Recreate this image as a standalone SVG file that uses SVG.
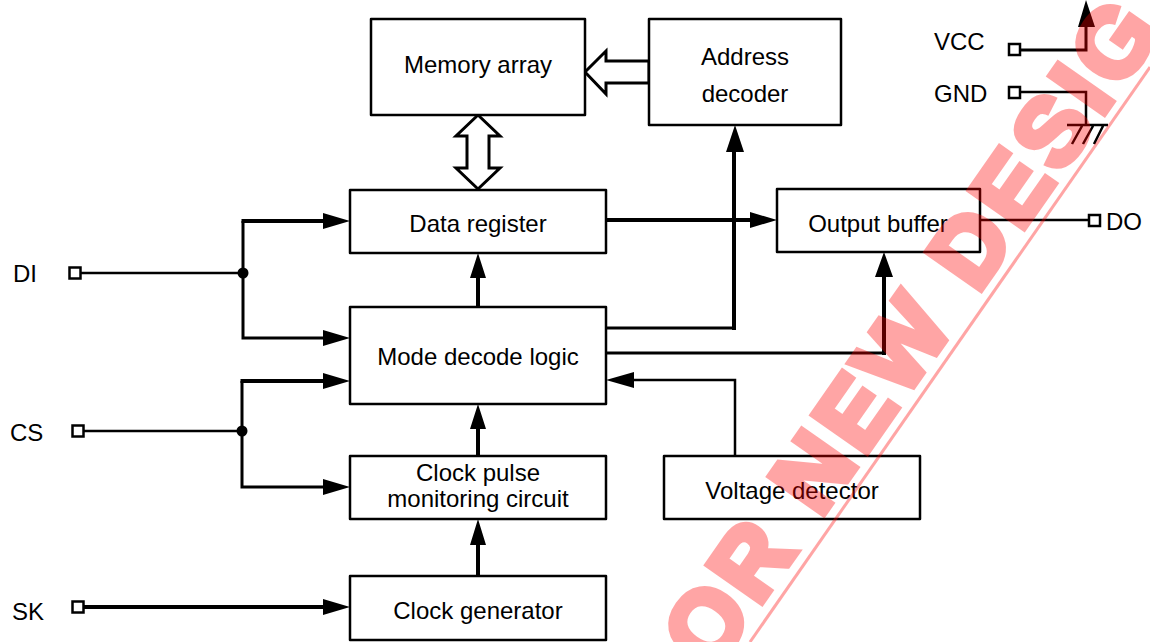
<svg xmlns="http://www.w3.org/2000/svg" width="1150" height="642" viewBox="0 0 1150 642">
<style>
.b{fill:#fff;stroke:#000;stroke-width:2.5;stroke-linejoin:round}
.t{font-family:"Liberation Sans",Arial,sans-serif;font-size:24px;fill:#000;text-anchor:middle}
.l{font-family:"Liberation Sans",Arial,sans-serif;font-size:24px;fill:#000}
.c{fill:none;stroke:#000;stroke-width:2.5}
.m{fill:none;stroke:#000;stroke-width:3}
.k{fill:none;stroke:#000;stroke-width:4}
.h{fill:#000;stroke:none}
.p{fill:#fff;stroke:#000;stroke-width:2.5}
.o{fill:#fff;stroke:#000;stroke-width:3;stroke-linejoin:miter}
</style>
<rect width="1150" height="642" fill="#fff"/>
<g id="connectors">
<path class="c" d="M80 273H243"/>
<path class="m" d="M243 273V221M243 273V338H326"/>
<path class="k" d="M241.500 221H326"/>
<path class="c" d="M84 431H242"/>
<path class="m" d="M242 431V487H326M242 431V381"/>
<path class="k" d="M240.500 381H326"/>
<path class="k" d="M83 607H326"/>
<path class="k" d="M478 307V277M478 456V428M478 576V544"/>
<path class="k" d="M606 220H752"/>
<path class="m" d="M606 328H735"/>
<path class="k" d="M734 330V150"/>
<path class="m" d="M606 353H884"/>
<path class="k" d="M884 355V275"/>
<path class="c" d="M735 456V380H632"/>
<path class="c" d="M980 220H1089"/>
<path class="m" d="M1020 50H1086V25"/>
<path class="c" d="M1020 92H1086V125M1067 125H1108M1082 126L1072 144M1093 126L1083 144M1103 126L1094 144"/>
<path class="h" d="M350 221L323 213V229ZM350 338L323 330V346ZM350 381L323 373V389ZM350 487L323 479V495ZM350 607L323 599V615Z"/>
<path class="h" d="M478 253L470 278H486ZM478 404L470 429H486ZM478 519L470 545H486Z"/>
<path class="h" d="M777 220L750 212V228ZM735 125L726 152H744ZM884 252L875 277H893ZM606 380L634 372V388ZM1086 0L1078 27H1095Z"/>
<circle class="h" cx="243" cy="273" r="5.500"/>
<circle class="h" cx="242" cy="431" r="5.500"/>
<path class="o" d="M649 61H606V51L585 72L606 94V83H649Z"/>
<path class="o" d="M467 136V168H456L478 189L500 168H489V136H500L478 115L456 136Z"/>
</g>
<g id="memory-array"><rect class="b" x="371" y="19" width="214" height="96"/><text class="t" x="478" y="73">Memory array</text></g>
<g id="address-decoder"><rect class="b" x="649" y="19" width="192" height="106"/><text class="t" x="745" y="65">Address</text><text class="t" x="745" y="102">decoder</text></g>
<g id="data-register"><rect class="b" x="350" y="190" width="256" height="63"/><text class="t" x="478" y="232">Data register</text></g>
<g id="mode-decode-logic"><rect class="b" x="350" y="307" width="256" height="97"/><text class="t" x="478" y="365">Mode decode logic</text></g>
<g id="clock-pulse-monitoring-circuit"><rect class="b" x="350" y="456" width="256" height="63"/><text class="t" x="478" y="481">Clock pulse</text><text class="t" x="478" y="507">monitoring circuit</text></g>
<g id="clock-generator"><rect class="b" x="350" y="576" width="256" height="64"/><text class="t" x="478" y="619">Clock generator</text></g>
<g id="voltage-detector"><rect class="b" x="664" y="456" width="256" height="63"/><text class="t" x="792" y="499">Voltage detector</text></g>
<g id="output-buffer"><rect class="b" x="777" y="189" width="203" height="63"/><text class="t" x="878" y="232">Output buffer</text></g>
<g id="pin-di"><rect class="p" x="69.500" y="267.500" width="11" height="11"/><text class="l" x="13" y="282">DI</text></g>
<g id="pin-cs"><rect class="p" x="72.500" y="425.500" width="11" height="11"/><text class="l" x="10" y="441">CS</text></g>
<g id="pin-sk"><rect class="p" x="72.500" y="601.500" width="11" height="11"/><text class="l" x="12" y="620">SK</text></g>
<g id="pin-vcc"><rect class="p" x="1009" y="44" width="11" height="11"/><text class="l" x="934" y="50">VCC</text></g>
<g id="pin-gnd"><rect class="p" x="1009" y="87" width="11" height="11"/><text class="l" x="934" y="102">GND</text></g>
<g id="pin-do"><rect class="p" x="1089" y="215" width="11" height="11"/><text class="l" x="1106" y="230">DO</text></g>
<g id="watermark" opacity="0.35">
<text transform="translate(712 673) rotate(-55)" font-family="'Liberation Sans',Arial,sans-serif" font-weight="700" font-size="95" letter-spacing="6.500" fill="#f00" stroke="#f00" stroke-width="7" stroke-linejoin="miter">OR NEW DESIG</text>
<path d="M750 642L1150 67" stroke="#f00" stroke-width="3" fill="none"/>
</g>
</svg>
